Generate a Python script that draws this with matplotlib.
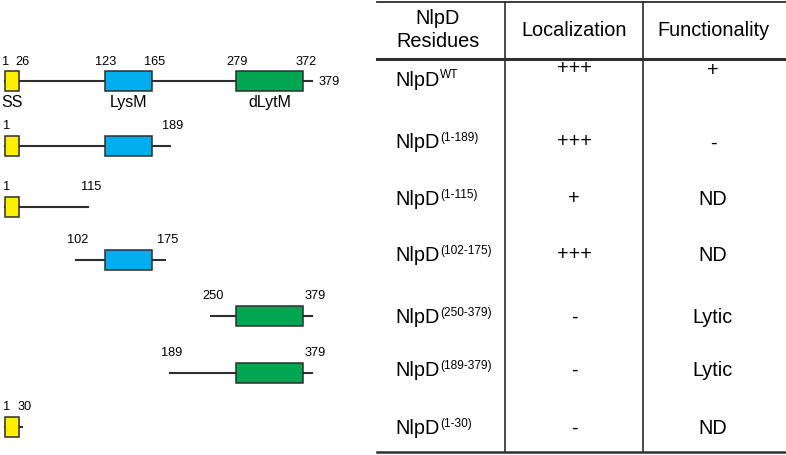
import matplotlib.pyplot as plt
import numpy as np
from matplotlib.patches import Rectangle

plt.rcParams['font.family'] = ['Liberation Sans', 'DejaVu Sans']

# fragments of NlpD (first and last residue)
frag_start = [1, 1, 1, 102, 250, 189, 1]
frag_end = [379, 189, 115, 175, 379, 379, 30]

# domains
dom_names = ['SS', 'LysM', 'dLytM']
dom_start = [1, 123, 279]
dom_end = [26, 165, 372]
dom_colors = ['#fff000', '#00aeef', '#00a651']

# table
col_headers = ['NlpD\nResidues', 'Localization', 'Functionality']
row_sup = ['WT', '(1-189)', '(1-115)', '(102-175)', '(250-379)', '(189-379)', '(1-30)']
localization = ['+++', '+++', '+', '+++', '-', '-', '-']
functionality = ['+', '-', 'ND', 'ND', 'Lytic', 'Lytic', 'ND']

# schematic drawing scale (residue -> pixel), not drawn to linear scale
scale_res = [1, 26, 102, 115, 123, 165, 175, 189, 250, 279, 372, 379]
scale_px = [5, 19, 76, 88, 105, 152, 165, 170, 211, 236, 303, 312]


def rx(r):
    return float(np.interp(r, scale_res, scale_px))


fig = plt.figure(figsize=(7.86, 4.56), dpi=100)
ax = fig.add_axes([0, 0, 1, 1])
ax.set_xlim(0, 786)
ax.set_ylim(456, 0)
ax.axis('off')

line_col = '#2e2e2e'
diag_y = [82, 147, 208, 261, 317, 374, 428]
box_h = 20

# --- domain diagrams ---
for i, (s, e) in enumerate(zip(frag_start, frag_end)):
    y = diag_y[i]
    ax.plot([rx(s), rx(e)], [y, y], color=line_col, lw=1.5, zorder=1)
    for name, ds, de, c in zip(dom_names, dom_start, dom_end, dom_colors):
        if ds >= s and de <= e:
            ax.add_patch(Rectangle((rx(ds), y - box_h / 2), rx(de) - rx(ds), box_h,
                                   facecolor=c, edgecolor=line_col, lw=1.1, zorder=2))
            if i == 0:
                ax.text((rx(ds) + rx(de)) / 2, y + 21, name, fontsize=11.5,
                        ha='center', va='center')
    if i == 0:
        # full length: label every domain boundary
        for ds, de in zip(dom_start, dom_end):
            ax.text(rx(ds) + 1, y - 20, str(ds), fontsize=9.2, ha='center', va='center')
            ax.text(rx(de) + 3, y - 20, str(de), fontsize=9.2, ha='center', va='center')
        ax.text(rx(e) + 7, y, str(e), fontsize=9.2, ha='left', va='center')
    else:
        ax.text(rx(s) + 2, y - 21, str(s), fontsize=9.2, ha='center', va='center')
        ax.text(rx(e) + 3, y - 21, str(e), fontsize=9.2, ha='center', va='center')

# --- table ---
x0, x1 = 377, 786
col_x = [505, 643]
col_cx = [438, 574, 713]
tab_y = [80, 143, 200, 256, 318, 371, 429]

ax.plot([x0, x1], [3, 3], color=line_col, lw=1.3)
ax.plot([x0, x1], [60, 60], color=line_col, lw=2.2)
ax.plot([x0, x1], [453, 453], color=line_col, lw=1.8)
for cx in col_x:
    ax.plot([cx, cx], [3, 453], color=line_col, lw=1.2)

ax.text(col_cx[0], 30, col_headers[0], fontsize=14.3, ha='center', va='center',
        linespacing=1.3)
for h, cx in zip(col_headers[1:], col_cx[1:]):
    ax.text(cx, 30, h, fontsize=14.3, ha='center', va='center')

fig.canvas.draw()
renderer = fig.canvas.get_renderer()
inv = ax.transData.inverted()
for i, sup in enumerate(row_sup):
    y = tab_y[i]
    t = ax.text(395, y, 'NlpD', fontsize=14.3, ha='left', va='center')
    bb = t.get_window_extent(renderer)
    xe = inv.transform((bb.x1, bb.y1))[0]
    ax.text(xe + 0.5, y - 5, sup, fontsize=8.6, ha='left', va='center')
    ax.text(col_cx[1], y - (11 if i == 0 else 1), localization[i], fontsize=14.3,
            ha='center', va='center')
    ax.text(col_cx[2], y - (9 if i == 0 else 0), functionality[i], fontsize=14.3,
            ha='center', va='center')

fig.savefig('out.png', dpi=100)
